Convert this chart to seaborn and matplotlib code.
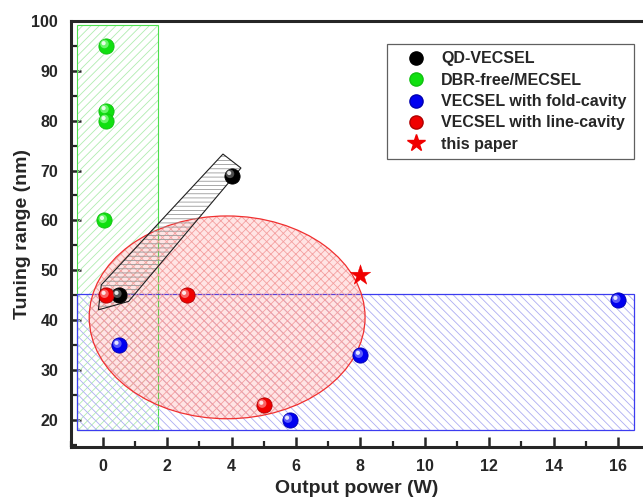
import matplotlib
matplotlib.use("Agg")
import matplotlib.pyplot as plt
import matplotlib.transforms as mtransforms
from matplotlib.patches import Rectangle, Ellipse, Polygon
from matplotlib.lines import Line2D
from matplotlib.ticker import MultipleLocator
import seaborn as sns
import numpy as np

# ---------------- data ----------------
qd_x = [4.0, 0.5]
qd_y = [69, 45]
dbr_x = [0.1, 0.1, 0.1, 0.05]
dbr_y = [95, 82, 80, 60]
fold_x = [0.5, 8.0, 5.8, 16.0]
fold_y = [35, 33, 20, 44]
line_x = [0.1, 2.6, 5.0]
line_y = [45, 45, 23]
paper_x = [8.0]
paper_y = [49]

labels = ["QD-VECSEL", "DBR-free/MECSEL", "VECSEL with fold-cavity",
          "VECSEL with line-cavity", "this paper"]

# region shapes (data coordinates)
green_box = (-0.8, 18.0, 1.7, 99.2)     # x0, y0, x1, y1
blue_box = (-0.8, 18.0, 16.5, 45.3)
red_ellipse = (3.86, 40.6, 8.57, 40.6)  # cx, cy, width, height
qd_band = [(3.73, 73.3), (4.29, 70.5), (0.80, 43.8), (-0.14, 42.1), (-0.05, 47.1)]

# ---------------- style ----------------
sns.set_style("ticks")
plt.rcParams["font.family"] = ["Liberation Sans", "DejaVu Sans"]
plt.rcParams["font.weight"] = "bold"
plt.rcParams["hatch.linewidth"] = 0.6

fig = plt.figure(figsize=(6.43, 4.99), dpi=100)
ax = fig.add_axes([70.7 / 643, 52.3 / 499, 1 - 70.7 / 643, (446.7 - 20.7) / 499])
ax.set_xlim(-1, 16.78)
ax.set_ylim(14.7, 100)

# green rectangle
x0, y0, x1, y1 = green_box
ax.add_patch(Rectangle((x0, y0), x1 - x0, y1 - y0, facecolor="none",
                       edgecolor="#b0ecb0", hatch="////", linewidth=0, zorder=1))
ax.add_patch(Rectangle((x0, y0), x1 - x0, y1 - y0, facecolor="none",
                       edgecolor="#4ee04e", linewidth=0.8, zorder=1.1))
# blue rectangle
x0, y0, x1, y1 = blue_box
ax.add_patch(Rectangle((x0, y0), x1 - x0, y1 - y0, facecolor="none",
                       edgecolor="#adadf2", hatch="\\\\\\\\", linewidth=0, zorder=1.2))
ax.add_patch(Rectangle((x0, y0), x1 - x0, y1 - y0, facecolor="none",
                       edgecolor="#3c3cf0", linewidth=0.9, zorder=1.3))
# red ellipse
cx, cy, w, h = red_ellipse
ax.add_patch(Ellipse((cx, cy), w, h, facecolor=(1, 0.3, 0.3, 0.15),
                     edgecolor="none", zorder=1.4))
ax.add_patch(Ellipse((cx, cy), w, h, facecolor="none",
                     edgecolor="#f4a0a0", hatch="xxxx", linewidth=0, zorder=1.5))
ax.add_patch(Ellipse((cx, cy), w, h, facecolor="none",
                     edgecolor="#f03030", linewidth=0.9, zorder=1.6))
# QD band
ax.add_patch(Polygon(qd_band, closed=True, facecolor="none",
                     edgecolor="#9a9a9a", hatch="----", linewidth=0, zorder=1.7))
ax.add_patch(Polygon(qd_band, closed=True, facecolor="none",
                     edgecolor="#202020", linewidth=0.8, zorder=1.8))

# ---------------- points (shaded balls) ----------------
hl1 = mtransforms.offset_copy(ax.transData, fig=fig, x=-1.2, y=1.2, units="points")
hl2 = mtransforms.offset_copy(ax.transData, fig=fig, x=-1.8, y=1.8, units="points")

series = [
    (qd_x, qd_y, "#000000", "#000000", "#707070"),
    (dbr_x, dbr_y, "#10e010", "#10c010", "#90ff90"),
    (fold_x, fold_y, "#0000f0", "#0000b0", "#8080ff"),
    (line_x, line_y, "#f00000", "#b00000", "#ff9090"),
]
for (xs, ys, col, edge, light), lab in zip(series, labels[:4]):
    sns.scatterplot(x=xs, y=ys, ax=ax, s=120, color=col, edgecolor=edge,
                    linewidth=0.6, zorder=5, legend=False)
    sns.scatterplot(x=xs, y=ys, ax=ax, s=38, color=light, edgecolor="none",
                    alpha=0.7, zorder=6, transform=hl1, legend=False)
    sns.scatterplot(x=xs, y=ys, ax=ax, s=9, color="white", edgecolor="none",
                    alpha=0.85, zorder=7, transform=hl2, legend=False)

sns.scatterplot(x=paper_x, y=paper_y, ax=ax, marker="*", s=240, color="#f00000",
                edgecolor="#f00000", linewidth=0.3, zorder=8, legend=False)

# ---------------- axes ----------------
ax.set_xticks(np.arange(0, 17, 2))
ax.set_yticks(np.arange(20, 101, 10))
ax.xaxis.set_minor_locator(MultipleLocator(1))
ax.yaxis.set_minor_locator(MultipleLocator(5))
ax.tick_params(which="major", direction="in", length=7, width=1.8,
               labelsize=11.5, pad=9, top=False, right=False)
ax.tick_params(which="minor", direction="in", length=4, width=1.6,
               top=False, right=False)
for lab in ax.get_xticklabels() + ax.get_yticklabels():
    lab.set_fontweight("bold")
for side in ["left", "bottom", "top"]:
    ax.spines[side].set_linewidth(2.2)
    ax.spines[side].set_visible(True)
ax.spines["right"].set_visible(False)

ax.set_xlabel("Output power (W)", fontsize=14, fontweight="bold", labelpad=4)
ax.set_ylabel("Tuning range (nm)", fontsize=14, fontweight="bold", labelpad=0)

# ---------------- legend ----------------
handles = [
    Line2D([], [], ls="", marker="o", ms=9.5, color="#000000", mec="#000000"),
    Line2D([], [], ls="", marker="o", ms=9.5, color="#10e010", mec="#10c010"),
    Line2D([], [], ls="", marker="o", ms=9.5, color="#0000f0", mec="#0000b0"),
    Line2D([], [], ls="", marker="o", ms=9.5, color="#f00000", mec="#b00000"),
    Line2D([], [], ls="", marker="*", ms=13, color="#f00000", mec="#f00000"),
]
leg = ax.legend(handles, labels, loc="upper right", bbox_to_anchor=(0.984, 0.945),
                borderaxespad=0, frameon=True, fancybox=False, framealpha=1,
                edgecolor="#606060", prop={"weight": "bold", "size": 11.5},
                handletextpad=0.25, labelspacing=0.4, borderpad=0.45,
                handlelength=2.7)
leg.get_frame().set_linewidth(0.9)
leg.set_zorder(10)

fig.savefig("out.png", dpi=100)
